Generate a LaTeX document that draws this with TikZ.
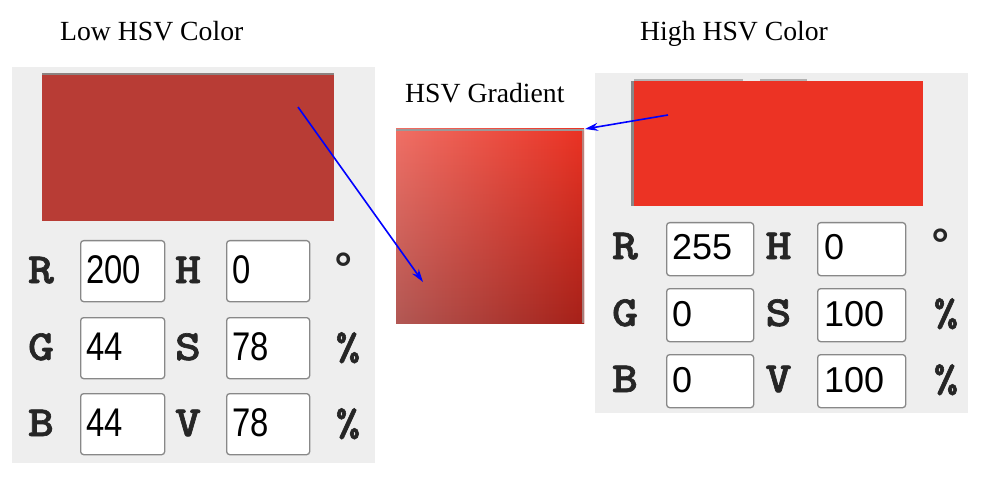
\documentclass[tikz,border=0pt]{standalone}
\usepackage{fontspec}
\setmainfont{Liberation Serif}
\newfontfamily\sansf{Liberation Sans}
\newfontfamily\monob{lmmonolt10-bold}[Extension=.otf, FakeStretch=1.15, FakeBold=1.5]
\newfontfamily\monoc{Liberation Mono}
\usetikzlibrary{fadings,arrows.meta}
\definecolor{panelgray}{RGB}{238,238,238}
\definecolor{lowred}{RGB}{184,60,53}
\definecolor{highred}{RGB}{236,51,36}
\definecolor{gTL}{RGB}{240,112,102}
\definecolor{gTR}{RGB}{235,50,35}
\definecolor{gBL}{RGB}{178,88,84}
\definecolor{gBR}{RGB}{166,32,24}
\definecolor{edgegray}{RGB}{140,130,128}
\definecolor{boxgray}{RGB}{136,136,136}
\definecolor{arrowblue}{RGB}{0,0,255}
\tikzfading[name=fadetop, top color=transparent!100, bottom color=transparent!0]
\begin{document}
\begin{tikzpicture}[x=1pt,y=-1pt,
  title/.style={font=\fontsize{27.7}{30}\selectfont, inner sep=0pt, anchor=base west},
  lbl/.style={font=\monob\fontsize{43}{43}\selectfont, inner sep=0pt, anchor=base, text=black!85},
  unit/.style={font=\monob\fontsize{40}{40}\selectfont, inner sep=0pt, anchor=base, text=black!85},
  degunit/.style={font=\monoc\bfseries\fontsize{44}{44}\selectfont, inner sep=0pt, anchor=base, text=black!85},
  numL/.style={font=\sansf\fontsize{40}{40}\selectfont, inner sep=0pt, anchor=base west},
  numR/.style={font=\sansf\fontsize{36}{36}\selectfont, inner sep=0pt, anchor=base west},
  fieldbox/.style={draw=boxgray, fill=white, line width=1.3pt, rounded corners=3pt, anchor=north west, inner sep=0pt},
  fieldL/.style={fieldbox, minimum width=84pt, minimum height=61pt},
  fieldR/.style={fieldbox, minimum width=87pt, minimum height=53pt},
  panel/.style={fill=panelgray, draw=none, anchor=north west, inner sep=0pt},
  conn/.style={draw=arrowblue, line width=1.6pt, -{Stealth[length=13pt,width=8pt]}}
]
\useasboundingbox (0,0) rectangle (984,486);
\fill[white] (0,0) rectangle (984,486);

% titles
\node[title] (tlow) at (60,41) {Low HSV Color};
\node[title] (thigh) at (640,41) {High HSV Color};
\node[title] (tgrad) at (405,103) {HSV Gradient};

% left panel
\node[panel, minimum width=363pt, minimum height=396pt] (lpanel) at (12,67) {};
\node[fill=lowred, anchor=north west, inner sep=0pt, minimum width=292pt, minimum height=148pt] (lswatch) at (42,73) {};
\fill[edgegray] (42,73) rectangle (334,75.5);

\node[fieldL] (lRb) at (80,240) {};
\node[fieldL] (lGb) at (80,317) {};
\node[fieldL] (lBb) at (80,393) {};
\node[fieldL, minimum width=83pt] (lHb) at (226,240) {};
\node[fieldL, minimum width=83pt] (lSb) at (226,317) {};
\node[fieldL, minimum width=83pt] (lVb) at (226,393) {};

\node[lbl] (lR) at (41,283) {R};
\node[lbl] (lG) at (41,360) {G};
\node[lbl] (lB) at (41,436) {B};
\node[lbl] (lH) at (188,283) {H};
\node[lbl] (lS) at (188,360) {S};
\node[lbl] (lV) at (188,436) {V};
\node[degunit] (ldeg) at (344,283) {°};
\node[unit] (lpc1) at (348,360) {\%};
\node[unit] (lpc2) at (348,436) {\%};

\node[numL] (lRv) at (86,283) {\scalebox{0.82}[1]{200}};
\node[numL] (lGv) at (86,360) {\scalebox{0.82}[1]{44}};
\node[numL] (lBv) at (86,436) {\scalebox{0.82}[1]{44}};
\node[numL] (lHv) at (232,283) {\scalebox{0.82}[1]{0}};
\node[numL] (lSv) at (232,360) {\scalebox{0.82}[1]{78}};
\node[numL] (lVv) at (232,436) {\scalebox{0.82}[1]{78}};

% gradient square
\path[left color=gTL, right color=gTR] (396,129) rectangle (584,323);
\path[left color=gBL, right color=gBR, path fading=fadetop] (396,129) rectangle (584,323);
\node[inner sep=0pt, anchor=north west, minimum width=188pt, minimum height=194pt] (grad) at (396,129) {};
\fill[gray!80] (396,129) rectangle (584,131.5);
\fill[gray!70, opacity=0.7] (582,129) rectangle (584,323);

% right panel
\node[panel, minimum width=373pt, minimum height=340pt] (rpanel) at (595,73) {};
\node[fill=highred, anchor=north west, inner sep=0pt, minimum width=292pt, minimum height=125pt] (rswatch) at (631,81) {};
\fill[boxgray] (631,81) rectangle (634,206);
\fill[gray!60] (634,79) rectangle (743,81);
\fill[gray!60] (760,79) rectangle (807,81);

\node[fieldR] (rRb) at (666,222) {};
\node[fieldR] (rGb) at (666,288) {};
\node[fieldR] (rBb) at (666,354) {};
\node[fieldR, minimum width=88pt] (rHb) at (817,222) {};
\node[fieldR, minimum width=88pt] (rSb) at (817,288) {};
\node[fieldR, minimum width=88pt] (rVb) at (817,354) {};

\node[lbl] (rR) at (625,259) {R};
\node[lbl] (rG) at (625,326) {G};
\node[lbl] (rB) at (625,392) {B};
\node[lbl] (rH) at (778.5,259) {H};
\node[lbl] (rS) at (778.5,326) {S};
\node[lbl] (rV) at (778.5,392) {V};
\node[degunit] (rdeg) at (941,259) {°};
\node[unit] (rpc1) at (946,326) {\%};
\node[unit] (rpc2) at (946,392) {\%};

\node[numR] (rRv) at (672,259) {255};
\node[numR] (rGv) at (672,326) {0};
\node[numR] (rBv) at (672,392) {0};
\node[numR] (rHv) at (824,259) {0};
\node[numR] (rSv) at (824,326) {100};
\node[numR] (rVv) at (824,392) {100};

% connectors
\coordinate (lpick) at (298,107);
\coordinate (gpick) at (423,282);
\coordinate (rpick) at (668,115);
\coordinate (gcorner) at (585,129);
\draw[conn] (lpick) -- (gpick);
\draw[conn] (rpick) -- (gcorner);
\end{tikzpicture}
\end{document}
